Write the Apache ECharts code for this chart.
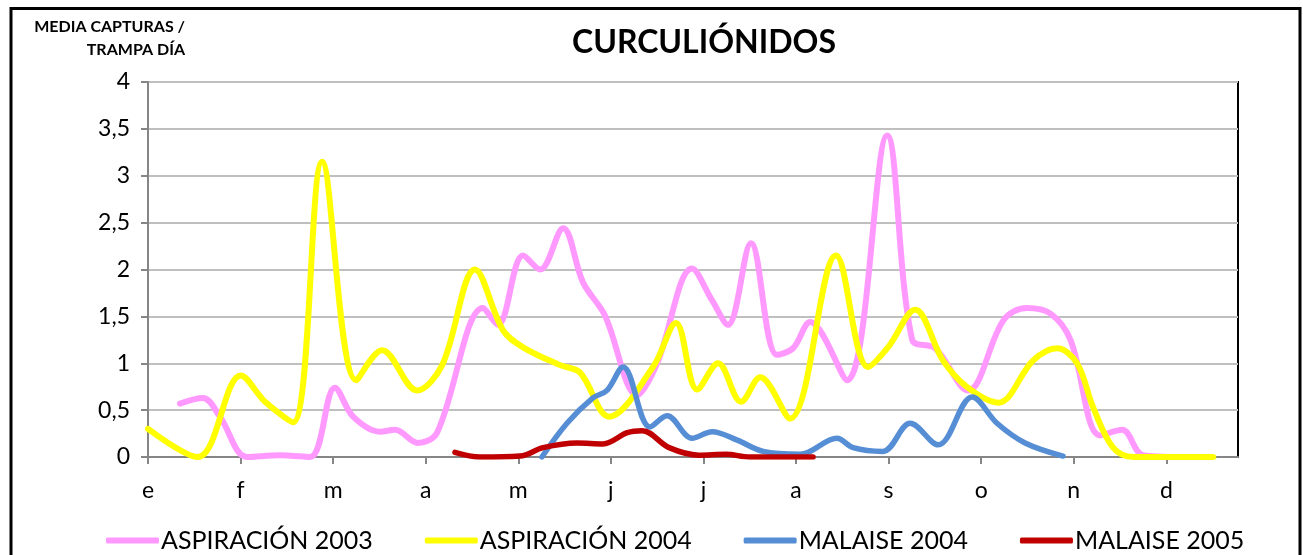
<!DOCTYPE html>
<html lang="es">
  <head>
    <meta charset="UTF-8" />
    <title>Curculiónidos</title>
    <script src="https://cdn.jsdelivr.net/npm/echarts@6/dist/echarts.min.js"></script>
    <style>
      html, body { margin: 0; padding: 0; background: #fff; }
      #main { width: 1303px; height: 555px; }
    </style>
  </head>
  <body>
    <div id="main"></div>

    <script>
      // etiquetas de mes (una cada 31 días en el eje)
      var meses = ["e", "f", "m", "a", "m", "j", "j", "a", "s", "o", "n", "d"];

      // [día del año, media capturas / trampa día]
      var aspiracion2003 = [
        [10.7, 0.57], [18.4, 0.63], [24.1, 0.43], [33.2, 0], [44.2, 0.02], [54.3, 0],
        [62.6, 0.74], [68.7, 0.43], [77.7, 0.27], [82.7, 0.29], [90.4, 0.15], [96.8, 0.26],
        [112.2, 1.59], [117.2, 1.41], [125.6, 2.15], [131.3, 2.0], [139.0, 2.44], [145.7, 1.86],
        [153.0, 1.51], [163.8, 0.66], [170.5, 1.0], [182.2, 2.01], [188.9, 1.67], [194.2, 1.41],
        [201.9, 2.28], [210.6, 1.09], [216.0, 1.16], [221.7, 1.44], [234.1, 0.82], [247.5, 3.43],
        [255.9, 1.25], [263.6, 1.16], [274.6, 0.71], [286.5, 1.46], [294.2, 1.59], [302.2, 1.53],
        [308.9, 1.25], [318.8, 0.23], [326.2, 0.29], [333.2, 0.02], [345.6, 0]
      ];
      var aspiracion2004 = [
        [0, 0.30], [16.7, 0], [31.1, 0.87], [39.2, 0.59], [48.6, 0.37], [58.3, 3.15],
        [69.7, 0.82], [78.4, 1.14], [90.1, 0.71], [98.5, 0.98], [109.5, 2.0], [118.9, 1.35],
        [125.6, 1.17], [138.0, 0.98], [144.7, 0.90], [154.4, 0.43], [169.1, 0.96], [176.8, 1.43],
        [183.9, 0.72], [190.9, 1.0], [198.6, 0.59], [205.0, 0.85], [215.0, 0.41], [230.4, 2.15],
        [241.1, 0.96], [247.8, 1.17], [256.9, 1.57], [266.2, 1.03], [274.1, 0.75], [284.7, 0.58],
        [296.4, 1.03], [304.4, 1.16], [311.1, 1.0], [316.5, 0.53], [323.2, 0.1], [330.0, 0],
        [356.7, 0]
      ];
      var malaise2004 = [
        [131.9, 0], [140.3, 0.36], [149.0, 0.63], [153.7, 0.71], [159.1, 0.96], [168.1, 0.32],
        [173.8, 0.44], [182.2, 0.2], [188.9, 0.27], [197.3, 0.18], [206.0, 0.06], [218.4, 0.03],
        [230.7, 0.2], [236.1, 0.1], [246.1, 0.06], [255.2, 0.36], [264.6, 0.13], [276.0, 0.64],
        [284.3, 0.36], [293.7, 0.15], [306.4, 0.01]
      ];
      var malaise2005 = [
        [102.8, 0.05], [111.2, 0], [124.6, 0.01], [132.3, 0.1], [143.7, 0.15], [152.4, 0.14],
        [160.5, 0.26], [165.5, 0.28], [174.5, 0.1], [184.5, 0.02], [193.5, 0.03], [201.4, 0],
        [222.7, 0]
      ];

      var chartDom = document.getElementById("main");
      var myChart = echarts.init(chartDom);
      var font = "Lato, 'Open Sans', sans-serif";

      function serie(nombre, datos, color, ancho) {
        return {
          name: nombre,
          type: "line",
          data: datos,
          smooth: 0.35,
          symbol: "none",
          clip: true,
          lineStyle: { color: color, width: ancho, cap: "round", join: "round" },
          itemStyle: { color: color },
        };
      }

      var option = {
        animation: false,
        backgroundColor: "#fff",
        textStyle: { fontFamily: font, color: "#000" },
        title: {
          text: "CURCULIÓNIDOS",
          left: 567,
          top: 22,
          textStyle: { fontFamily: font, fontSize: 32, fontWeight: "bold", color: "#000" },
        },
        graphic: [
          {
            type: "rect",
            shape: { x: 11, y: 8.5, width: 1289, height: 700 },
            style: { fill: "none", stroke: "#000", lineWidth: 3 },
            silent: true,
          },
          {
            type: "text",
            x: 185,
            y: 15,
            style: {
              text: "MEDIA CAPTURAS /\nTRAMPA DÍA",
              textAlign: "right",
              fontFamily: font,
              fontWeight: "bold",
              fontSize: 16,
              lineHeight: 23,
              fill: "#000",
            },
          },
        ],
        legend: {
          left: 101,
          top: 523,
          itemWidth: 53,
          itemHeight: 6,
          itemGap: 52,
          icon: "roundRect",
          textStyle: { fontFamily: font, fontSize: 25, color: "#000", padding: [0, 0, 0, -3] },
          data: ["ASPIRACIÓN 2003", "ASPIRACIÓN 2004", "MALAISE 2004", "MALAISE 2005"],
        },
        grid: {
          left: 148,
          top: 82,
          right: 65,
          bottom: 98,
          show: true,
          borderColor: "#000",
          borderWidth: 2,
        },
        xAxis: {
          type: "value",
          min: 0,
          max: 365,
          interval: 31,
          axisLine: { lineStyle: { color: "#868686", width: 2 } },
          axisTick: { show: true, length: 7, lineStyle: { color: "#868686", width: 2 } },
          splitLine: { show: false },
          axisLabel: {
            margin: 22,
            fontSize: 23,
            color: "#000",
            fontFamily: font,
            showMaxLabel: false,
            formatter: function (v) {
              return v % 31 === 0 ? meses[v / 31] || "" : "";
            },
          },
        },
        yAxis: {
          type: "value",
          min: 0,
          max: 4,
          interval: 0.5,
          axisLine: { show: true, lineStyle: { color: "#868686", width: 2 } },
          axisTick: { show: true, length: 7, lineStyle: { color: "#868686", width: 2 } },
          splitLine: { lineStyle: { color: "#BFBFBF", width: 2 } },
          axisLabel: {
            margin: 18,
            fontSize: 23,
            color: "#000",
            fontFamily: font,
            formatter: function (v) {
              return String(v).replace(".", ",");
            },
          },
        },
        series: [
          serie("ASPIRACIÓN 2003", aspiracion2003, "#FF99FF", 6),
          serie("ASPIRACIÓN 2004", aspiracion2004, "#FFFF00", 6),
          serie("MALAISE 2004", malaise2004, "#558ED5", 5.5),
          serie("MALAISE 2005", malaise2005, "#C00000", 5.5),
        ],
      };

      myChart.setOption(option);
    </script>
  </body>
</html>
